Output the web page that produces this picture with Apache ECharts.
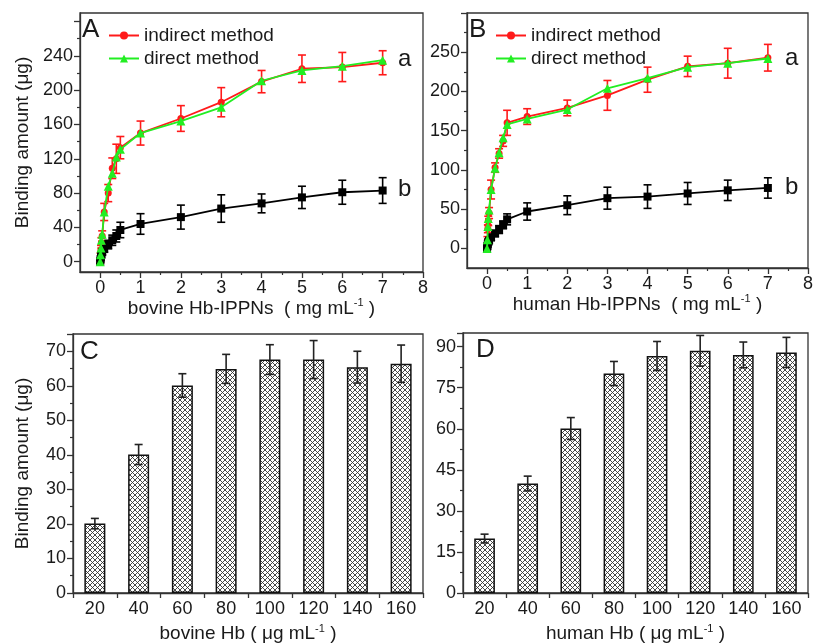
<!DOCTYPE html>
<html>
<head>
<meta charset="utf-8">
<script src="https://cdn.jsdelivr.net/npm/echarts@6/dist/echarts.min.js"></script>
<style>
  html, body { margin: 0; padding: 0; background: #fff; }
  #chart { width: 816px; height: 644px; }
</style>
</head>
<body>
<div id="chart"></div>
<script>
// concentrations of Hb-IPPNs (mg/mL)
const xConc = [0, 0.01, 0.02, 0.03, 0.05, 0.1, 0.2, 0.3, 0.4, 0.5, 1, 2, 3, 4, 5, 6, 7]

// panel A, bovine
const bovIndirect = [0, 6, 14, 22, 30, 58, 80, 109, 120, 133, 150, 167, 186, 210, 225, 227, 232]
const bovIndirectErr = [2, 4, 5, 6, 6, 10, 10, 12, 17, 13, 14, 15, 17, 13, 16, 17, 14]
const bovDirect = [0, 8, 16, 25, 32, 58, 88, 103, 122, 131, 150, 164, 180, 211, 223, 228, 235]
const bovB = [0, 3, 6, 8, 11, 15, 20, 25, 30, 37, 44, 52, 62, 68, 75, 81, 83]
const bovBErr = [2, 2, 3, 3, 3, 4, 5, 6, 7, 9, 12, 14, 16, 11, 13, 14, 15]

// panel B, human
const humIndirect = [0, 10, 25, 35, 45, 75, 103, 121, 137, 160, 168, 179, 195, 215, 232, 236, 243]
const humIndirectErr = [2, 5, 5, 6, 7, 12, 6, 6, 7, 16, 10, 10, 19, 16, 13, 19, 17]
const humDirect = [0, 11, 28, 38, 49, 75, 102, 122, 141, 158, 165, 177, 204, 217, 231, 236, 242]
const humB = [0, 3, 6, 8, 10, 14, 19, 24, 30, 37, 47, 55, 64, 66, 70, 74, 77]
const humBErr = [2, 2, 2, 3, 3, 4, 4, 5, 5, 7, 11, 12, 14, 15, 14, 13, 13]

// panels C and D, bars
const hbConc = ['20', '40', '60', '80', '100', '120', '140', '160']
const bovBars = [20.1, 40.1, 60.1, 64.9, 67.6, 67.6, 65.4, 66.4]
const bovBarsErr = [1.5, 2.9, 3.4, 4.2, 4.3, 5.5, 4.6, 5.4]
const humBars = [19.9, 40, 60.1, 80.2, 86.6, 88.5, 87, 87.9]
const humBarsErr = [1.6, 2.7, 4, 4.4, 5.3, 5.6, 4.7, 5.5]

const RED = '#ff1a1a'
const GREEN = '#22ee22'
const FONT = 'Liberation Sans, Arial, sans-serif'
const INK = '#1a1a1a'

const pair = (xs, ys) => xs.map((x, i) => [x, ys[i]])
const errData = (xs, ys, es) => xs.map((x, i) => [x, ys[i] - es[i], ys[i] + es[i]])
const idx = arr => arr.map((_, i) => i)

function errBar(color, cap) {
  return function (params, api) {
    const x = api.value(0)
    const p1 = api.coord([x, api.value(1)])
    const p2 = api.coord([x, api.value(2)])
    const st = { stroke: color, lineWidth: 1.6 }
    return {
      type: 'group',
      children: [
        { type: 'line', shape: { x1: p1[0], y1: p1[1], x2: p2[0], y2: p2[1] }, style: st },
        { type: 'line', shape: { x1: p1[0] - cap, y1: p1[1], x2: p1[0] + cap, y2: p1[1] }, style: st },
        { type: 'line', shape: { x1: p2[0] - cap, y1: p2[1], x2: p2[0] + cap, y2: p2[1] }, style: st }
      ]
    }
  }
}

// cross hatch fill for the bars
const pat = document.createElement('canvas')
pat.width = 5
pat.height = 5
const g = pat.getContext('2d')
g.fillStyle = '#fff'
g.fillRect(0, 0, 5, 5)
g.strokeStyle = '#333'
g.lineWidth = 0.9
g.beginPath()
g.moveTo(0, 0); g.lineTo(5, 5)
g.moveTo(5, 0); g.lineTo(0, 5)
g.stroke()

const axisLine = { show: true, onZero: false, lineStyle: { color: '#333', width: 1.3 } }
const tickLabel = { color: INK, fontSize: 18, fontFamily: FONT }

const nameRich = {
  t: { fontSize: 19, fontFamily: FONT, color: INK },
  s: { fontSize: 11, fontFamily: FONT, color: INK, padding: [0, 0, 10, 0] }
}

function valueX(gi, nameLeft) {
  return [
    {
      type: 'value', gridIndex: gi, position: 'bottom', min: -0.5, max: 8,
      axisLine: axisLine,
      splitLine: { show: false },
      axisTick: { show: true, length: 6, lineStyle: { color: '#333', width: 1.3 }, customValues: [0, 1, 2, 3, 4, 5, 6, 7, 8] },
      axisLabel: Object.assign({ customValues: [0, 1, 2, 3, 4, 5, 6, 7, 8], margin: 7 }, tickLabel),
      name: '{t|' + nameLeft + '  ( mg mL}{s|-1}{t| )}',
      nameLocation: 'middle', nameGap: 24,
      nameTextStyle: { rich: nameRich }
    },
    {
      // half-unit minor ticks
      type: 'value', gridIndex: gi, position: 'bottom', min: -0.5, max: 8,
      axisLine: { show: false, onZero: false }, splitLine: { show: false },
      axisLabel: { show: false },
      axisTick: { show: true, length: 3, lineStyle: { color: '#333', width: 1.2 }, customValues: [0.5, 1.5, 2.5, 3.5, 4.5, 5.5, 6.5, 7.5] }
    }
  ]
}

function valueY(gi, min, max, labels, majors, minors, withName) {
  const main = {
    type: 'value', gridIndex: gi, position: 'left', min: min, max: max,
    axisLine: axisLine,
    splitLine: { show: false },
    axisTick: { show: true, length: 6, lineStyle: { color: '#333', width: 1.3 }, customValues: majors },
    axisLabel: Object.assign({ customValues: labels, margin: 7 }, tickLabel)
  }
  if (withName) {
    Object.assign(main, {
      name: 'Binding amount (μg)', nameLocation: 'middle', nameGap: 48,
      nameTextStyle: { fontSize: 19, fontFamily: FONT, color: INK }
    })
  }
  return [main, {
    type: 'value', gridIndex: gi, position: 'left', min: min, max: max,
    axisLine: { show: false, onZero: false }, splitLine: { show: false },
    axisLabel: { show: false },
    axisTick: { show: true, length: 3, lineStyle: { color: '#333', width: 1.2 }, customValues: minors }
  }]
}

function catX(gi, name) {
  return {
    type: 'category', gridIndex: gi, data: hbConc,
    axisLine: axisLine,
    axisTick: { show: true, length: 5, lineStyle: { color: '#333', width: 1.3 } },
    axisLabel: Object.assign({ margin: 7 }, tickLabel),
    name: '{t|' + name + ' ( μg mL}{s|-1}{t| )}',
    nameLocation: 'middle', nameGap: 30,
    nameTextStyle: { rich: nameRich }
  }
}

function barY(gi, max, step, withName) {
  const ax = {
    type: 'value', gridIndex: gi, min: 0, max: max, interval: step,
    axisLine: axisLine,
    splitLine: { show: false },
    axisTick: { show: true, length: 6, lineStyle: { color: '#333', width: 1.3 } },
    minorTick: { show: true, splitNumber: 2, length: 3, lineStyle: { color: '#333', width: 1.2 } },
    minorSplitLine: { show: false },
    axisLabel: Object.assign({ margin: 7 }, tickLabel)
  }
  if (withName) {
    Object.assign(ax, {
      name: 'Binding amount (μg)', nameLocation: 'middle', nameGap: 41,
      nameTextStyle: { fontSize: 19, fontFamily: FONT, color: INK }
    })
  }
  return ax
}

function lineSeries(name, xi, yi, data, color, symbol, size, z) {
  return {
    type: 'line', name: name, xAxisIndex: xi, yAxisIndex: yi,
    data: data, symbol: symbol, symbolSize: size, z: z,
    lineStyle: { color: color, width: 1.8 },
    itemStyle: { color: color },
    emphasis: { disabled: true }
  }
}

function errSeries(xi, yi, data, color, cap, z) {
  return {
    type: 'custom', xAxisIndex: xi, yAxisIndex: yi, z: z,
    renderItem: errBar(color, cap), data: data,
    encode: { x: 0, y: [1, 2] }, silent: true
  }
}

function barSeries(xi, yi, vals) {
  return {
    type: 'bar', xAxisIndex: xi, yAxisIndex: yi, data: vals, barWidth: '48%',
    itemStyle: { color: { image: pat, repeat: 'repeat' }, borderColor: '#111', borderWidth: 1.5 },
    silent: true
  }
}

const gridBox = { show: true, borderColor: '#333', borderWidth: 1.3, backgroundColor: 'transparent' }

const myChart = echarts.init(document.getElementById('chart'), null, { renderer: 'canvas' })

const legendText = { fontSize: 19, fontFamily: FONT, color: INK }

const option = {
  animation: false,
  backgroundColor: '#fff',
  grid: [
    Object.assign({ left: 80, top: 13, width: 343, height: 259 }, gridBox),
    Object.assign({ left: 467, top: 13, width: 343, height: 255 }, gridBox),
    Object.assign({ left: 73, top: 334, width: 350, height: 260 }, gridBox),
    Object.assign({ left: 463, top: 333, width: 345, height: 260 }, gridBox)
  ],
  legend: [
    {
      left: 103, top: 21, orient: 'vertical', itemGap: 4, itemWidth: 30, itemHeight: 10,
      data: ['indirect method', 'direct method'], textStyle: legendText
    },
    {
      left: 490, top: 21, orient: 'vertical', itemGap: 4, itemWidth: 30, itemHeight: 10,
      data: ['indirect method', 'direct method'], textStyle: legendText
    }
  ],
  xAxis: [].concat(
    valueX(0, 'bovine Hb-IPPNs'),
    valueX(1, 'human Hb-IPPNs'),
    [catX(2, 'bovine Hb'), catX(3, 'human Hb')]
  ),
  yAxis: [].concat(
    valueY(0, -12, 290, [0, 40, 80, 120, 160, 200, 240], [0, 40, 80, 120, 160, 200, 240, 280],
      [20, 60, 100, 140, 180, 220, 260], true),
    valueY(1, -25, 300, [0, 50, 100, 150, 200, 250], [0, 50, 100, 150, 200, 250, 300],
      [25, 75, 125, 175, 225, 275], false),
    [barY(2, 75, 10, true), barY(3, 95, 15, false)]
  ),
  series: [
    // A
    errSeries(0, 0, errData(xConc, bovIndirect, bovIndirectErr), RED, 4, 3),
    lineSeries('indirect method', 0, 0, pair(xConc, bovIndirect), RED, 'circle', 7, 4),
    lineSeries('direct method', 0, 0, pair(xConc, bovDirect), GREEN, 'triangle', 9, 5),
    errSeries(0, 0, errData(xConc, bovB, bovBErr), '#000', 4, 3),
    lineSeries('b', 0, 0, pair(xConc, bovB), '#000', 'rect', 8, 4),
    // B
    errSeries(2, 2, errData(xConc, humIndirect, humIndirectErr), RED, 4, 3),
    lineSeries('indirect method', 2, 2, pair(xConc, humIndirect), RED, 'circle', 7, 4),
    lineSeries('direct method', 2, 2, pair(xConc, humDirect), GREEN, 'triangle', 9, 5),
    errSeries(2, 2, errData(xConc, humB, humBErr), '#000', 4, 3),
    lineSeries('b', 2, 2, pair(xConc, humB), '#000', 'rect', 8, 4),
    // C
    barSeries(4, 4, bovBars),
    errSeries(4, 4, errData(idx(hbConc), bovBars, bovBarsErr), '#222', 4, 5),
    // D
    barSeries(5, 5, humBars),
    errSeries(5, 5, errData(idx(hbConc), humBars, humBarsErr), '#222', 4, 5)
  ],
  graphic: [
    { type: 'text', left: 82, top: 17, style: { text: 'A', fontSize: 26, fontFamily: FONT, fill: INK } },
    { type: 'text', left: 469, top: 17, style: { text: 'B', fontSize: 26, fontFamily: FONT, fill: INK } },
    { type: 'text', left: 80, top: 339, style: { text: 'C', fontSize: 26, fontFamily: FONT, fill: INK } },
    { type: 'text', left: 476, top: 337, style: { text: 'D', fontSize: 26, fontFamily: FONT, fill: INK } },
    { type: 'text', left: 398, top: 47, style: { text: 'a', fontSize: 24, fontFamily: FONT, fill: INK } },
    { type: 'text', left: 398, top: 177, style: { text: 'b', fontSize: 24, fontFamily: FONT, fill: INK } },
    { type: 'text', left: 785, top: 46, style: { text: 'a', fontSize: 24, fontFamily: FONT, fill: INK } },
    { type: 'text', left: 785, top: 175, style: { text: 'b', fontSize: 24, fontFamily: FONT, fill: INK } }
  ]
}

myChart.setOption(option)
</script>
</body>
</html>
